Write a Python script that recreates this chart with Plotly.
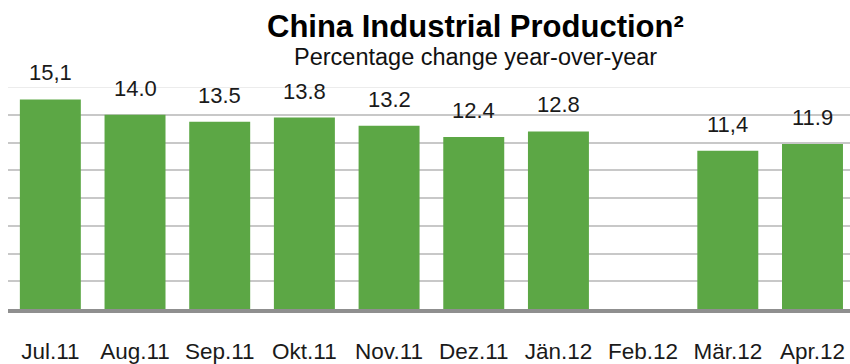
import plotly.graph_objects as go

categories = ["Jul.11", "Aug.11", "Sep.11", "Okt.11", "Nov.11", "Dez.11",
              "Jän.12", "Feb.12", "Mär.12", "Apr.12"]
values = [15.1, 14.0, 13.5, 13.8, 13.2, 12.4, 12.8, None, 11.4, 11.9]
value_labels = ["15,1", "14.0", "13.5", "13.8", "13.2", "12.4", "12.8", "", "11,4", "11.9"]
grid_ticks = [2, 4, 6, 8, 10, 12, 14]

FONT = "Liberation Sans, Arial, sans-serif"
GREEN = "#5CA745"

fig = go.Figure()
fig.add_trace(go.Bar(
    x=categories, y=values,
    marker=dict(color=GREEN, line=dict(width=0)),
    hoverinfo="skip",
))

annotations = []
for c, v, t in zip(categories, values, value_labels):
    if v is None or not t:
        continue
    annotations.append(dict(
        x=c, y=v, xref="x", yref="y", text=t, showarrow=False,
        yanchor="bottom", xanchor="center", yshift=12,
        font=dict(family=FONT, size=22, color="#1a1a1a"),
    ))

PLOT_H = 232
title_x = (476 - 8) / 842
annotations.append(dict(
    x=title_x, y=1 + 43 / PLOT_H, xref="paper", yref="paper",
    text="<b>China Industrial Production²</b>",
    showarrow=False, xanchor="center", yanchor="bottom",
    font=dict(family=FONT, size=31, color="#000000"),
))
annotations.append(dict(
    x=title_x, y=1 + 16 / PLOT_H, xref="paper", yref="paper",
    text="Percentage change year-over-year",
    showarrow=False, xanchor="center", yanchor="bottom",
    font=dict(family=FONT, size=23.5, color="#111111"),
))

fig.update_layout(
    width=850, height=364,
    margin=dict(l=8, r=0, t=87, b=45, pad=0),
    paper_bgcolor="white", plot_bgcolor="white",
    showlegend=False,
    bargap=0.28,
    annotations=annotations,
    font=dict(family=FONT),
    shapes=[dict(type="line", xref="paper", yref="y", x0=0, x1=1, y0=16, y1=16,
                 line=dict(color="#e6e6e6", width=1.5), layer="below")],
)
fig.update_xaxes(
    type="category", range=[-0.5, 9.443],
    showline=True, linecolor="#8f8f8f", linewidth=4,
    showgrid=False, ticks="", ticklabelstandoff=19,
    tickfont=dict(family=FONT, size=22.5, color="#1a1a1a"),
)
fig.update_yaxes(
    range=[0, 16], tickvals=grid_ticks, showticklabels=False,
    showgrid=True, gridcolor="#c8c8c8", gridwidth=1.5,
    zeroline=False, showline=False,
)

fig.write_html("out.html")
